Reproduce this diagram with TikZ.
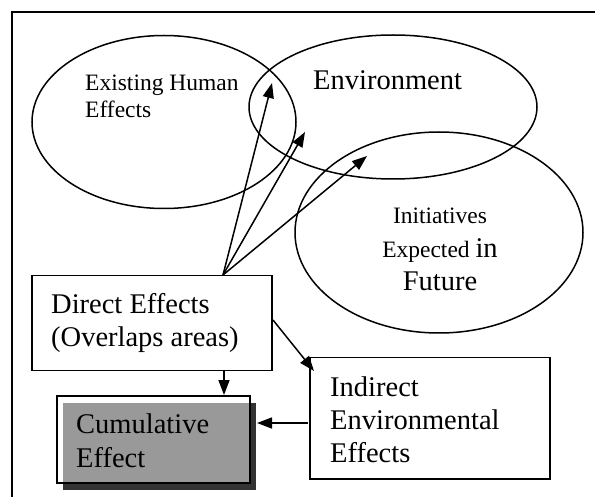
\documentclass[tikz,border=0pt]{standalone}
\usepackage{fontspec}
\setmainfont{Liberation Serif}
\usetikzlibrary{arrows.meta,shapes.geometric}
\newcommand\bigtxt{\fontsize{28.5}{33.5}\selectfont}
\newcommand\smalltxt{\fontsize{23.5}{27}\selectfont}
\definecolor{fillgray}{HTML}{999999}
\definecolor{shadowgray}{HTML}{333333}
\begin{document}
\begin{tikzpicture}[x=1pt,y=-1pt,
  zone/.style={draw, ellipse, line width=1.5pt, inner sep=0pt},
  box/.style={draw, line width=1.5pt, rectangle, inner sep=0pt, anchor=north west},
  % multi-line labels are placed by the baseline of their last line
  lbl/.style={inner sep=0pt, align=left, anchor=base west},
  link/.style={line width=1.5pt, -{Triangle[length=15pt,width=11pt]}}]
\useasboundingbox (0,0) rectangle (595,497);

% frame of the cell
\draw[line width=2pt, line cap=rect] (595,12) -- (12,12) -- (12,497);

% the three overlapping zones
\node[zone, minimum width=264pt, minimum height=173pt] (human) at (164,122) {};
\node[zone, minimum width=288pt, minimum height=144pt] (env) at (393,107) {};
\node[zone, minimum width=288pt, minimum height=201pt] (future) at (439,232.5) {};

\node[lbl, font=\smalltxt] (humanlbl) at (85,118) {Existing Human\\Effects};
\node[lbl, font=\bigtxt] (envlbl) at (313,90) {Environment};
\node[inner sep=0pt, align=center, anchor=base, font=\fontsize{23.5}{33.5}\selectfont]
  (futurelbl) at (440,291) {Initiatives\\Expected {\bigtxt in}\\{\bigtxt Future}};

% boxes
\node[box, minimum width=240pt, minimum height=95pt] (direct) at (31,275) {};
\node[lbl, font=\bigtxt] (directlbl) at (51,347) {Direct Effects\\(Overlaps areas)};

\node[box, minimum width=240pt, minimum height=121pt] (indirect) at (309,357) {};
\node[lbl, font=\fontsize{28.5}{32.8}\selectfont] (indirectlbl) at (330,462)
  {Indirect\\Environmental\\Effects};

% cumulative box with its shadow
\fill[shadowgray] (63,403) rectangle (256,490);
\fill[fillgray] (63,403) rectangle (249,482);
\node[box, minimum width=193pt, minimum height=87pt] (cumul) at (56,395) {};
\node[lbl, font=\bigtxt] (cumullbl) at (76,467) {Cumulative\\Effect};

% arrow ends
\coordinate (src) at (223,275);
\coordinate (tipA) at (272,83);
\coordinate (tipB) at (305,132);
\coordinate (tipC) at (367,156);
\coordinate (dright) at (273,320);
\coordinate (ileft) at (314,371);
\coordinate (dbottom) at (224,370);
\coordinate (ctop) at (224,395);
\coordinate (iwest) at (308,423);
\coordinate (ceast) at (257,423);

\draw[link] (src) -- (tipA);
\draw[link] (src) -- (tipB);
\draw[link] (src) -- (tipC);
\draw[link] (dright) -- (ileft);
\draw[link] (dbottom) -- (ctop);
\draw[link] (iwest) -- (ceast);
\end{tikzpicture}
\end{document}
